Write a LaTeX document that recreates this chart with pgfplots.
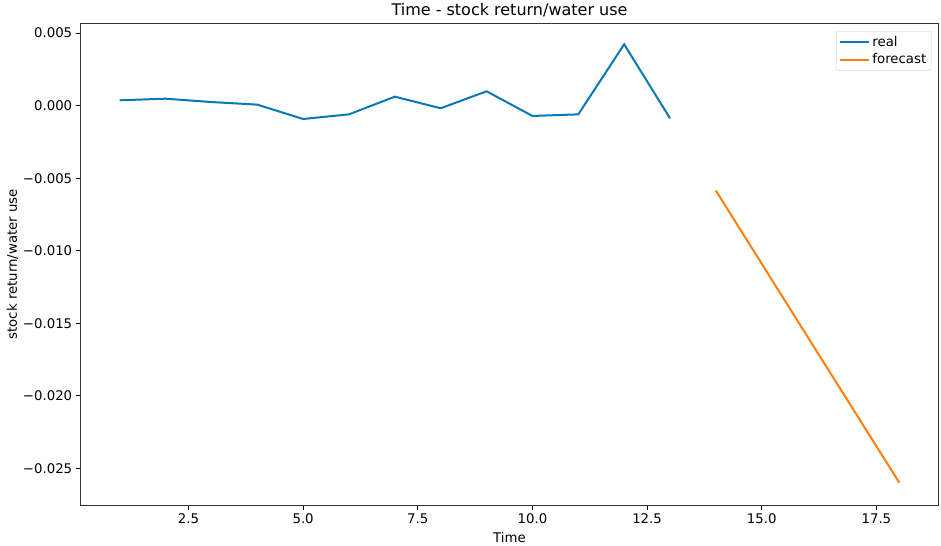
\documentclass[border=0pt]{standalone}
\usepackage{pgfplots}
\pgfplotsset{compat=1.18}
\usepackage{fontspec}
\setmainfont{DejaVu Sans}
\definecolor{realblue}{HTML}{0A78B4}
\definecolor{fcorange}{HTML}{FF7F0E}
\begin{document}
\begin{tikzpicture}
\useasboundingbox (-80.7bp,-41bp) rectangle (860.3bp,505bp);
\begin{axis}[
  at={(0,0)}, anchor=south west,
  scale only axis, width=857.6bp, height=481.7bp,
  xmin=0.15, xmax=18.85, ymin=-0.02754, ymax=0.00568,
  ytick scale label code/.code={},
  xtick={2.5,5,7.5,10,12.5,15,17.5},
  xticklabels={2.5,5.0,7.5,10.0,12.5,15.0,17.5},
  ytick={-0.025,-0.020,-0.015,-0.010,-0.005,0,0.005},
  yticklabels={−0.025,−0.020,−0.015,−0.010,−0.005,0.000,0.005},
  tick align=outside, major tick length=5bp,
  tick style={black, line width=0.8bp},
  axis line style={line width=0.8bp, black!80},
  ticklabel style={font=\fontsize{13.3bp}{15bp}\selectfont},
  xtick pos=bottom, ytick pos=left,
  title={Time - stock return/water use},
  title style={font=\fontsize{16bp}{18bp}\selectfont, yshift=-3bp},
  xlabel={Time}, ylabel={stock return/water use},
  label style={font=\fontsize{13.3bp}{15bp}\selectfont},
  xlabel style={yshift=-2bp},
  ylabel style={yshift=-2bp},
  legend style={at={(0.992,0.984)}, anchor=north east, draw=black!18, rounded corners=2bp,
    font=\fontsize{13.3bp}{15bp}\selectfont, inner sep=3bp, row sep=2bp},
  legend cell align=left,
  legend image code/.code={\draw[#1, line width=2bp] (0bp,0bp) -- (29bp,0bp);},
]
\addplot[realblue, line width=2bp] coordinates {
 (1,0.00037) (2,0.00048) (3,0.00025) (4,0.00007) (5,-0.00092) (6,-0.00060)
 (7,0.00062) (8,-0.00018) (9,0.00099) (10,-0.00071) (11,-0.00060) (12,0.00423) (13,-0.00087)};
\addlegendentry{real}
\addplot[fcorange, line width=2bp] coordinates {
 (14,-0.00586) (15,-0.01090) (16,-0.01594) (17,-0.02097) (18,-0.02600)};
\addlegendentry{forecast}
\end{axis}
\end{tikzpicture}
\end{document}
